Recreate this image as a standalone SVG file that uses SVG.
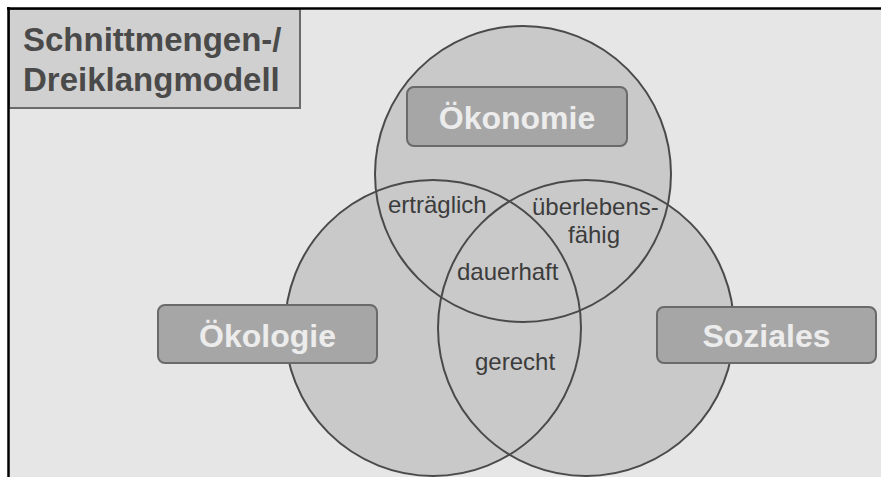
<svg xmlns="http://www.w3.org/2000/svg" width="881" height="477" viewBox="0 0 881 477">
  <style>
    .circ-fill { fill: #c9c9c9; stroke: none; }
    .circ-line { fill: none; stroke: #4a4a4a; stroke-width: 2; }
    .box { fill: #a6a6a6; stroke: #6a6a6a; stroke-width: 2; }
    .boxtext { font-family: "Liberation Sans", Arial, sans-serif; font-weight: bold; font-size: 32px; fill: #ececec; text-anchor: middle; }
    .label { font-family: "Liberation Sans", Arial, sans-serif; font-size: 24px; fill: #3c3c3c; }
    .title { font-family: "Liberation Sans", Arial, sans-serif; font-weight: bold; font-size: 33px; fill: #4a4a4a; }
  </style>
  <rect x="0" y="0" width="881" height="477" fill="#ffffff"/>
  <rect x="8" y="8" width="873" height="469" fill="#e6e6e6"/>

  <g id="title">
    <rect x="9" y="9" width="291" height="99" fill="#d0d0d0" stroke="#6a6a6a" stroke-width="2"/>
    <text class="title" x="23" y="51">Schnittmengen-/</text>
    <text class="title" x="23" y="91">Dreiklangmodell</text>
  </g>

  <g id="circle-fills">
    <circle class="circ-fill" cx="523" cy="174" r="148"/>
    <circle class="circ-fill" cx="433" cy="328" r="148"/>
    <circle class="circ-fill" cx="586" cy="328" r="148"/>
  </g>

  <g id="oekonomie">
    <circle class="circ-line" cx="523" cy="174" r="148"/>
    <rect class="box" x="407" y="87" width="220" height="59" rx="7"/>
    <text class="boxtext" x="517" y="129">Ökonomie</text>
  </g>

  <g id="oekologie">
    <circle class="circ-line" cx="433" cy="328" r="148"/>
    <rect class="box" x="158" y="305" width="219" height="58" rx="7"/>
    <text class="boxtext" x="267.5" y="347">Ökologie</text>
  </g>

  <g id="soziales">
    <circle class="circ-line" cx="586" cy="328" r="148"/>
    <rect class="box" x="657" y="307" width="219" height="56" rx="7"/>
    <text class="boxtext" x="766.5" y="347">Soziales</text>
  </g>

  <g id="intersections">
    <text class="label" x="388" y="213">erträglich</text>
    <text class="label" x="532" y="215">überlebens-</text>
    <text class="label" x="568" y="243">fähig</text>
    <text class="label" x="457" y="280">dauerhaft</text>
    <text class="label" x="475" y="370">gerecht</text>
  </g>

  <g id="frame">
    <line x1="7" y1="8.5" x2="881" y2="8.5" stroke="#000" stroke-width="2.5"/>
    <line x1="8.5" y1="7" x2="8.5" y2="477" stroke="#000" stroke-width="2.5"/>
  </g>
</svg>
